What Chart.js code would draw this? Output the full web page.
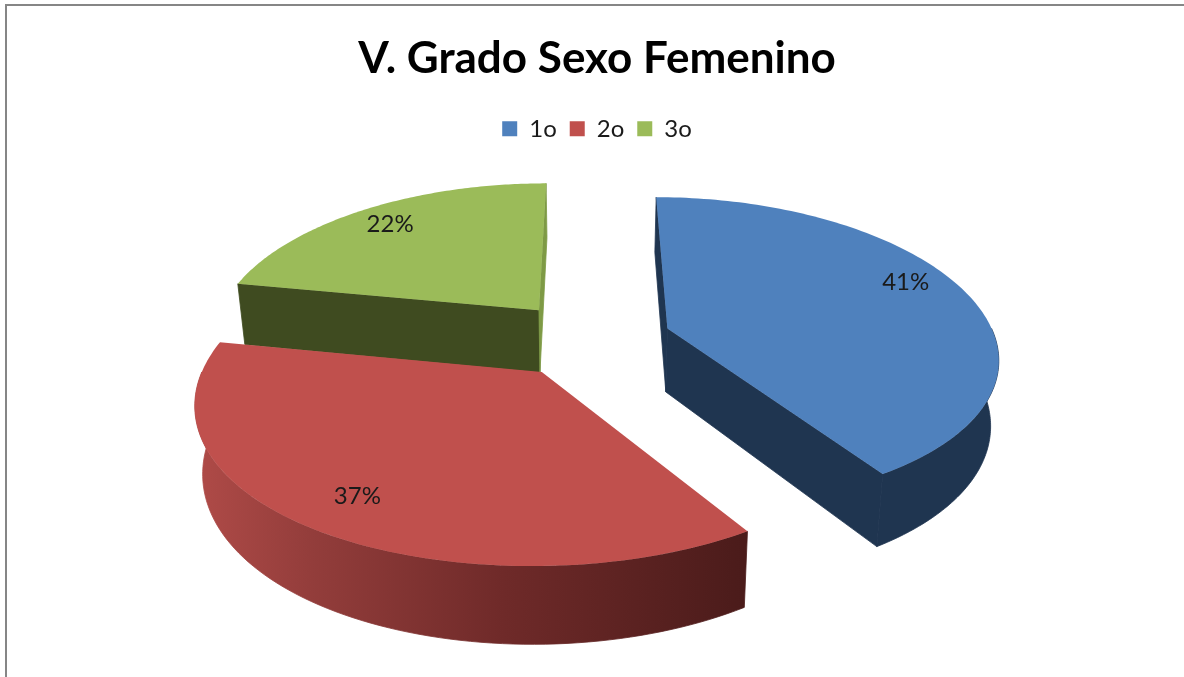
<!DOCTYPE html>
<html>
<head>
<meta charset="utf-8">
<style>
html,body{margin:0;padding:0;background:#fff;overflow:hidden;width:1184px;height:677px}
#frame{position:absolute;left:5px;top:4px;width:1300px;height:800px;border:2px solid #868686;background:#fff}
canvas{display:block}
</style>
<script src="https://cdn.jsdelivr.net/npm/chart.js@4/dist/chart.umd.min.js"></script>
</head>
<body>
<div id="frame"><canvas id="c" width="1180" height="671"></canvas></div>
<script>
const titleText = "V. Grado Sexo Femenino";
const categories = ["1o", "2o", "3o"];
const values = [41, 37, 22];
const topColors = ["#4F81BD", "#C0504D", "#9BBB59"];
const startWallColors = ["#1F3550", null, "#3F4B20"];
const endWallColors = ["#1F3550", null, "#7E9A45"];
const outerWallColors = ["#1F3550", "#5a2220", "#3F4B20"];
const redWallStops = [[0, "#AE4A47"], [0.2, "#933D3B"], [0.55, "#6F2A29"], [1, "#4A1B1A"]];
const labelSweepFractions = [0.46, 0.5, 0.5];
const labelRadii = [0.85, 0.82, 0.84];

const view = {cx: 0.4937, cy: 0.4965, a: 0.278, b: 0.2295, q: 0.15, qx: 0.17, depth: 0.0955, taper: 0.98, explode: 0.25};
const drawOrder = [2, 0, 1];

function project(chart, X, Y, z) {
  const W = chart.width, H = chart.height;
  let sx = W * view.cx + W * view.a * X / (1 - view.qx * Y);
  const w = 1 - view.q * Y;
  let sy = H * view.cy + H * view.b * Y / w;
  if (z) {
    sx = W * view.cx + (sx - W * view.cx) * view.taper;
    sy += H * view.depth / w;
  }
  return [sx, sy];
}

function sliceGeom(arc) {
  const mid = (arc.startAngle + arc.endAngle) / 2;
  return {ox: view.explode * Math.cos(mid), oy: view.explode * Math.sin(mid), mid};
}

function poly(ctx, pts, fill, seal) {
  if (!fill) return;
  ctx.beginPath();
  pts.forEach((p, i) => i ? ctx.lineTo(p[0], p[1]) : ctx.moveTo(p[0], p[1]));
  ctx.closePath();
  ctx.fillStyle = fill;
  ctx.fill();
  if (seal) {
    ctx.strokeStyle = fill;
    ctx.lineWidth = 0.8;
    ctx.stroke();
  }
}

const pie3d = {
  id: "pie3d",
  beforeDatasetsDraw(chart) {
    const ctx = chart.ctx;
    const arcs = chart.getDatasetMeta(0).data;
    drawOrder.forEach(i => {
      const arc = arcs[i];
      const g = sliceGeom(arc);
      const pt = (ang, r, z) => project(chart, g.ox + r * Math.cos(ang), g.oy + r * Math.sin(ang), z);
      const s = arc.startAngle, e = arc.endAngle;
      // inner walls
      poly(ctx, [pt(s, 0, 0), pt(s, 1, 0), pt(s, 1, 1), pt(s, 0, 1)], startWallColors[i], true);
      poly(ctx, [pt(e, 0, 0), pt(e, 1, 0), pt(e, 1, 1), pt(e, 0, 1)], endWallColors[i], true);
      // outer wall, front-facing part only
      const fs = Math.max(s, 0), fe = Math.min(e, Math.PI);
      if (fe > fs) {
        const top = [], bot = [];
        for (let k = 0; k <= 80; k++) {
          const t = fs + (fe - fs) * k / 80;
          top.push(pt(t, 1, 0));
          bot.unshift(pt(t, 1, 1));
        }
        let fill = outerWallColors[i];
        if (i === 1) {
          const grad = ctx.createLinearGradient(chart.width * 0.165, 0, chart.width * 0.63, 0);
          redWallStops.forEach(st => grad.addColorStop(st[0], st[1]));
          fill = grad;
        }
        poly(ctx, top.concat(bot), fill, true);
      }
      // top face
      const face = [pt(s, 0, 0)];
      for (let k = 0; k <= 120; k++) face.push(pt(s + (e - s) * k / 120, 1, 0));
      poly(ctx, face, topColors[i], false);
    });
    return false;
  },
  afterDraw(chart) {
    const ctx = chart.ctx;
    const arcs = chart.getDatasetMeta(0).data;
    const total = values.reduce((p, v) => p + v, 0);
    ctx.save();
    ctx.font = "24px Lato";
    ctx.fillStyle = "#1a1a1a";
    ctx.textAlign = "center";
    ctx.textBaseline = "middle";
    arcs.forEach((arc, i) => {
      const g = sliceGeom(arc);
      const ang = arc.startAngle + (arc.endAngle - arc.startAngle) * labelSweepFractions[i];
      const p = project(chart, g.ox + labelRadii[i] * Math.cos(ang), g.oy + labelRadii[i] * Math.sin(ang), 0);
      ctx.fillText(Math.round(values[i] / total * 100) + "%", p[0], p[1]);
    });
    ctx.restore();
  }
};

new Chart(document.getElementById("c"), {
  type: "pie",
  data: {
    labels: categories,
    datasets: [{data: values, backgroundColor: topColors, borderWidth: 0}]
  },
  options: {
    responsive: false,
    animation: false,
    events: [],
    plugins: {
      title: {
        display: true,
        text: titleText,
        color: "#000",
        font: {family: "Lato", size: 44, weight: "bold"},
        padding: {top: 26, bottom: 19}
      },
      legend: {
        position: "top",
        labels: {
          color: "#1a1a1a",
          font: {family: "Lato", size: 24},
          boxWidth: 15,
          boxHeight: 15,
          padding: 13
        }
      },
      tooltip: {enabled: false}
    }
  },
  plugins: [pie3d]
});
</script>
</body>
</html>
